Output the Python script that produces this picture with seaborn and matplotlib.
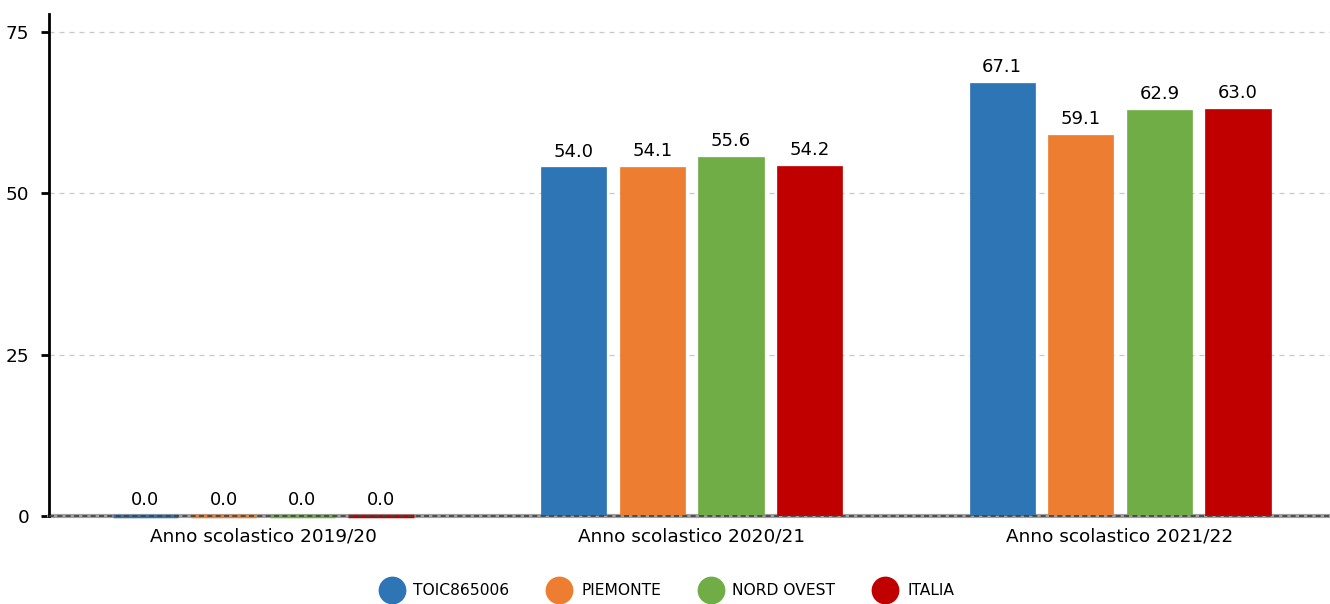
import pandas as pd
import seaborn as sns
import matplotlib.pyplot as plt
from matplotlib.lines import Line2D

# valori
anni = ['Anno scolastico 2019/20', 'Anno scolastico 2020/21', 'Anno scolastico 2021/22']
serie = ['TOIC865006', 'PIEMONTE', 'NORD OVEST', 'ITALIA']
toic = [0.0, 54.0, 67.1]
piemonte = [0.0, 54.1, 59.1]
nord_ovest = [0.0, 55.6, 62.9]
italia = [0.0, 54.2, 63.0]
colori = ['#2E75B6', '#ED7D31', '#70AD47', '#C00000']

df = pd.DataFrame({
	'anno': anni * 4,
	'serie': [s for s in serie for _ in anni],
	'valore': toic + piemonte + nord_ovest + italia,
})

sns.set_style('white')
plt.rcParams['font.family'] = ['DejaVu Sans']
plt.rcParams['font.sans-serif'] = ['DejaVu Sans']
plt.rcParams['text.color'] = 'black'
plt.rcParams['xtick.color'] = 'black'
plt.rcParams['ytick.color'] = 'black'

fig = plt.figure(figsize=(13.3, 6.04), dpi=100)
ax = fig.add_axes([0.0368, 0.1457, 0.9632, 0.8313])

sns.barplot(data=df, x='anno', y='valore', hue='serie', palette=colori,
			width=0.734, gap=0.17, ax=ax, legend=False, saturation=1)
for cont, col in zip(ax.containers, colori):
	for b in cont:
		b.set_edgecolor(col)
		b.set_zorder(2)
		if b.get_height() == 0:
			b.set_linewidth(2.5)
			b.set_clip_on(False)
		else:
			b.set_linewidth(0.5)
	ax.bar_label(cont, fmt='%.1f', padding=5, fontsize=13, color='black')

ax.set_ylim(0, 77.8)
ax.set_xlim(-0.5, 2.49)
ax.set_yticks([0, 25, 50, 75])
ax.yaxis.grid(True, linestyle=(0, (4, 4)), color='#c8c8c8', linewidth=0.9)
ax.set_axisbelow(True)
ax.axhline(0, color='#a0a0a0', linewidth=3.0, zorder=1.5, clip_on=False)
ax.axhline(0, color='#404040', linewidth=1.2, linestyle=(0, (3, 2)), zorder=4, clip_on=False)

for s in ['top', 'right', 'bottom']:
	ax.spines[s].set_visible(False)
ax.spines['left'].set_linewidth(2)
ax.spines['left'].set_color('black')
ax.tick_params(axis='y', left=True, length=6, width=2, labelsize=13.3, pad=8)
ax.tick_params(axis='x', bottom=False, labelsize=13.3, pad=5)
ax.set_xlabel('')
ax.set_ylabel('')

handles = [Line2D([], [], marker='o', linestyle='', markersize=19,
				  markerfacecolor=c, markeredgecolor=c) for c in colori]
fig.legend(handles, serie, loc='center', bbox_to_anchor=(0.5, 0.022), ncol=4,
		   frameon=False, fontsize=11.2, handletextpad=0.4, columnspacing=2.2)

fig.savefig('out.png', dpi=100)
